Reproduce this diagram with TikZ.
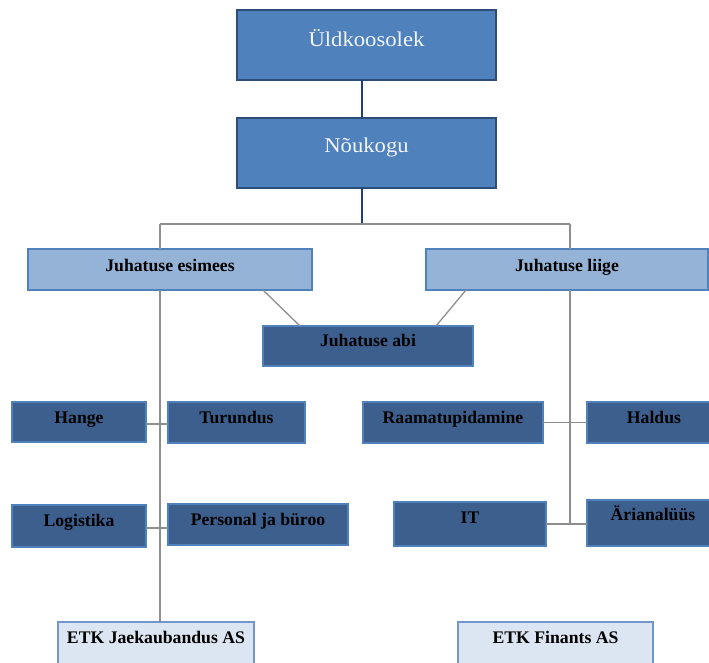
\documentclass[tikz,border=0pt]{standalone}
\usepackage{fontspec}
\setmainfont{Liberation Serif}
\newfontfamily\headfont[FakeStretch=1.08]{Liberation Serif}
\definecolor{topfill}{HTML}{4F81BD}
\definecolor{topedge}{HTML}{2C4D77}
\definecolor{toptext}{HTML}{F2F4F8}
\definecolor{lightfill}{HTML}{95B3D7}
\definecolor{accentedge}{HTML}{4F81BD}
\definecolor{darkfill}{HTML}{3C5F8E}
\definecolor{palefill}{HTML}{DCE6F2}
\definecolor{paleedge}{HTML}{7096CC}
\definecolor{trunk}{HTML}{1F3F6E}
\definecolor{branch}{HTML}{8E8E8E}
\begin{document}
\begin{tikzpicture}[x=1pt,y=-1pt,
  every node/.style={inner sep=0pt, outer sep=0pt, rectangle, align=center},
  sz/.style 2 args={minimum width=#1, minimum height=#2},
  up/.style={text height=#1, text depth=0pt},
  dn/.style={text height=0pt, text depth=#1},
  topbox/.style={fill=topfill, draw=topedge, line width=2.6pt, text=toptext,
    font=\headfont\fontsize{21}{25}\selectfont},
  lightbox/.style={fill=lightfill, draw=accentedge, line width=1.4pt, text=black,
    font=\bfseries\fontsize{17.7}{20}\selectfont},
  darkbox/.style={fill=darkfill, draw=accentedge, line width=1.2pt, text=black,
    font=\bfseries\fontsize{17.7}{20}\selectfont},
  palebox/.style={fill=palefill, draw=paleedge, line width=1.8pt, text=black,
    font=\bfseries\fontsize{17.7}{20}\selectfont},
  trunkline/.style={draw=trunk, line width=1.4pt},
  branchline/.style={draw=branch, line width=1.3pt},
]
\clip (0,0) rectangle (709,662);
\fill[white] (0,0) rectangle (709,662);

% governing bodies
\node[topbox, sz={259pt}{70pt}, up=2pt] (uld) at (366.5,45) {Üldkoosolek};
\node[topbox, sz={259pt}{70pt}, dn=2pt] (nou) at (366.5,153) {Nõukogu};

% management board
\node[lightbox, sz={284pt}{41pt}, up=3pt] (jes) at (170,269.5) {Juhatuse esimees};
\node[lightbox, sz={282pt}{41pt}, up=3pt] (jli) at (567,269.5) {Juhatuse liige};
\node[darkbox, sz={210pt}{40pt}, up=1.4pt] (jab) at (368,346) {Juhatuse abi};

% departments
\node[darkbox, sz={134pt}{40pt}, up=2.6pt] (han) at (79,422) {Hange};
\node[darkbox, sz={137pt}{41pt}, up=1.6pt] (tur) at (236.5,422.5) {Turundus};
\node[darkbox, sz={134pt}{42pt}, up=0pt] (log) at (79,526) {Logistika};
\node[darkbox, sz={180pt}{41pt}, up=1pt] (per) at (258,524.5) {Personal ja büroo};
\node[darkbox, sz={180pt}{41pt}, up=1pt] (raa) at (453,422.5) {Raamatupidamine};
\node[darkbox, sz={134pt}{41pt}, up=1pt] (hal) at (654,422.5) {Haldus};
\node[darkbox, sz={152pt}{44pt}, dn=2pt] (it) at (470,524) {IT};
\node[darkbox, sz={132pt}{46pt}, dn=6pt] (ari) at (653,523) {Ärianalüüs};

% subsidiaries
\node[palebox, sz={196pt}{58pt}, dn=16pt] (etkj) at (156,651) {ETK Jaekaubandus AS};
\node[palebox, sz={195pt}{58pt}, dn=16pt] (etkf) at (555.5,651) {ETK Finants AS};

% junction points
\coordinate (hub) at (362,224);
\coordinate (hubl) at (160,224);
\coordinate (hubr) at (570,224);
\coordinate (rend) at (570,524);

% connectors
\draw[trunkline] (uld.south -| hub) -- (nou.north -| hub);
\draw[trunkline] (nou.south -| hub) -- (hub);
\draw[branchline] (hubl) -- (hubr);
\draw[branchline] (hubl) -- (jes.north -| hubl);
\draw[branchline] (hubr) -- (jli.north -| hubr);
\draw[branchline] (jes.south -| hubl) -- (etkj.north -| hubl);
\draw[branchline] (jli.south -| hubr) -- (rend);
\draw[branchline] ([xshift=93pt]jes.south) -- ([xshift=-68pt]jab.north);
\draw[branchline] ([xshift=-101pt]jli.south) -- ([xshift=68pt]jab.north);
\draw[branchline] ([yshift=-2pt]han.east) -- ([yshift=-2pt]han.east -| tur.west);
\draw[branchline] ([yshift=-2pt]log.east) -- ([yshift=-2pt]log.east -| per.west);
\draw[branchline] (raa.east) -- (raa.east -| hal.west);
\draw[branchline] (it.east) -- (it.east -| ari.west);
\end{tikzpicture}
\end{document}
